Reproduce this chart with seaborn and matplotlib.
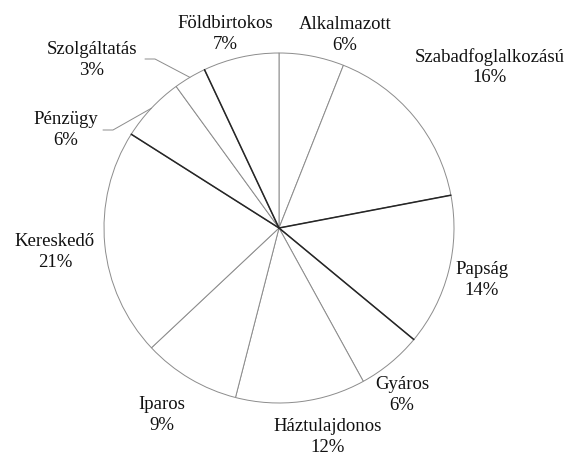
import matplotlib.pyplot as plt
import seaborn as sns
import numpy as np

# Data (clockwise from top)
categories = ['Alkalmazott', 'Szabadfoglalkozású', 'Papság', 'Gyáros', 'Háztulajdonos',
              'Iparos', 'Kereskedő', 'Pénzügy', 'Szolgáltatás', 'Földbirtokos']
shares = [6, 16, 14, 6, 12, 9, 21, 6, 3, 7]

# label positions in pixels (x, y from top)
label_px = {
    'Alkalmazott': (345, 35),
    'Szabadfoglalkozású': (490, 67),
    'Papság': (482, 280),
    'Gyáros': (402, 395),
    'Háztulajdonos': (328, 437),
    'Iparos': (162, 415),
    'Kereskedő': (55, 252),
    'Pénzügy': (66, 130),
    'Szolgáltatás': (92, 60),
    'Földbirtokos': (225, 34),
}

sns.set_style('white')
plt.rcParams['font.family'] = 'serif'
plt.rcParams['font.serif'] = ['Liberation Serif', 'DejaVu Serif']

W, H = 580, 458
cx, cy, R = 279, 228, 175

def to_data(px, py):
    return (px - cx) / R, (cy - py) / R

fig = plt.figure(figsize=(W / 100, H / 100), dpi=100)
ax = fig.add_axes([0, 0, 1, 1])

labels = [f'{c}\n{v}%' for c, v in zip(categories, shares)]
wedges, texts = ax.pie(shares, labels=labels, startangle=90, counterclock=False,
                       colors=['white'] * len(shares),
                       wedgeprops=dict(edgecolor='#8c8c8c', linewidth=0.7),
                       textprops=dict(fontsize=13.5, color='#111111', linespacing=1.25))

for c, t in zip(categories, texts):
    t.set_position(to_data(*label_px[c]))
    t.set_ha('center')
    t.set_va('center')

# darker scanned boundaries (start edge of these slices)
for i in [2, 3, 7, 9]:
    a = np.deg2rad(wedges[i].theta2)
    ax.plot([0, np.cos(a)], [0, np.sin(a)], color='#262626', lw=1.1)

# leader lines for small slices
for name, elbow in [('Pénzügy', [(103, 130), (113, 130)]),
                    ('Szolgáltatás', [(145, 59), (155, 59)])]:
    w = wedges[categories.index(name)]
    mid = np.deg2rad((w.theta1 + w.theta2) / 2)
    pts = [to_data(*p) for p in elbow] + [(np.cos(mid), np.sin(mid))]
    xs, ys = zip(*pts)
    ax.plot(xs, ys, color='#8c8c8c', lw=0.7)

ax.set_xlim(-cx / R, (W - cx) / R)
ax.set_ylim((cy - H) / R, cy / R)
ax.set_aspect('equal')
ax.axis('off')

fig.savefig('out.png', dpi=100)
